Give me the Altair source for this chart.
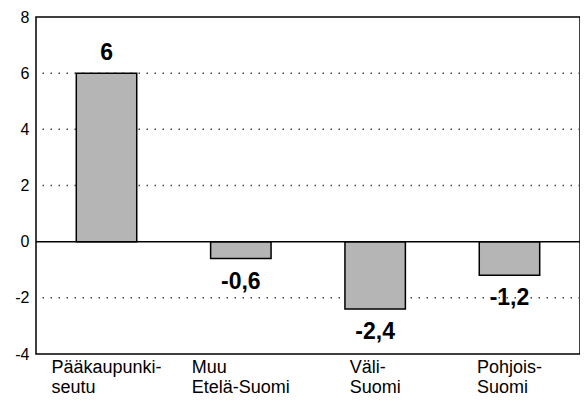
import altair as alt
import pandas as pd

# Data
categories = ["Pääkaupunki-|seutu", "Muu|Etelä-Suomi", "Väli-|Suomi", "Pohjois-|Suomi"]
values = [6.0, -0.6, -2.4, -1.2]
value_labels = ["6", "-0,6", "-2,4", "-1,2"]
grid_values = [-2, 2, 4, 6]
y_ticks = [-4, -2, 0, 2, 4, 6, 8]

FONT = "Liberation Sans"
XFS = 18

# Arial / Liberation Sans advance widths (per 1000 em) for label centring
W = {"P": 667, "ä": 556, "k": 500, "a": 556, "u": 556, "p": 556, "n": 556, "i": 222,
     "-": 333, "s": 500, "e": 556, "t": 278, "M": 833, "E": 667, "l": 222, "S": 667,
     "o": 556, "m": 833, "V": 667, "h": 556, "j": 222}


def block_width(label):
    return max(sum(W.get(c, 556) for c in line) for line in label.split("|")) / 1000 * XFS


offset_cond = {
    "condition": [
        {"test": "datum.value === \"" + c + "\"", "value": -block_width(c) / 2}
        for c in categories
    ],
    "value": 0,
}

df = pd.DataFrame({"cat": categories, "v": values, "lab": value_labels})
df["pos"] = df["v"] >= 0
grid_df = pd.DataFrame({"g": grid_values})

W_PLOT, H_PLOT = 544, 337

x = alt.X("cat:N", sort=categories, title=None,
          scale=alt.Scale(paddingInner=0.55, paddingOuter=0.3),
          axis=alt.Axis(labelExpr="split(datum.label, '|')", labelAngle=0,
                        labelAlign="left", labelOffset=offset_cond,
                        labelBaseline="top", labelPadding=4, labelLineHeight=20,
                        labelFont=FONT, labelFontSize=XFS, labelColor="black",
                        domain=False, ticks=False))
y_scale = alt.Scale(domain=[-4, 8], nice=False)

bars = alt.Chart(df).mark_bar(color="#b5b5b5", stroke="black", strokeWidth=1.5).encode(
    x=x,
    y=alt.Y("v:Q", scale=y_scale, title=None,
            axis=alt.Axis(values=y_ticks, grid=False, domain=False, ticks=False,
                          labelExpr="'' + datum.value",
                          labelFont=FONT, labelFontSize=16, labelColor="black",
                          labelPadding=7)),
)

grid = alt.Chart(grid_df).mark_rule(color="#444", strokeDash=[1.5, 6.5], strokeWidth=1.5).encode(
    y=alt.Y("g:Q", scale=y_scale)
)

zero = alt.Chart(pd.DataFrame({"z": [0]})).mark_rule(color="black", strokeWidth=1.5).encode(
    y=alt.Y("z:Q", scale=y_scale)
)

pos_text = alt.Chart(df[df["pos"]]).mark_text(
    font=FONT, fontSize=23, fontWeight="bold", color="black", baseline="middle", dy=-20
).encode(x=alt.X("cat:N", sort=categories), y=alt.Y("v:Q", scale=y_scale), text="lab:N")

neg_text = alt.Chart(df[~df["pos"]]).mark_text(
    font=FONT, fontSize=23, fontWeight="bold", color="black", baseline="middle", dy=23
).encode(x=alt.X("cat:N", sort=categories), y=alt.Y("v:Q", scale=y_scale), text="lab:N")

chart = alt.layer(grid, bars, zero, pos_text, neg_text).properties(
    width=W_PLOT, height=H_PLOT,
    autosize=alt.AutoSizeParams(type="none"),
    padding={"left": 28, "top": 9, "right": 0, "bottom": 43},
    background="white",
).configure_view(stroke="black", strokeWidth=1.5)

chart.save("out.html", embed_options={"renderer": "svg", "actions": False})
